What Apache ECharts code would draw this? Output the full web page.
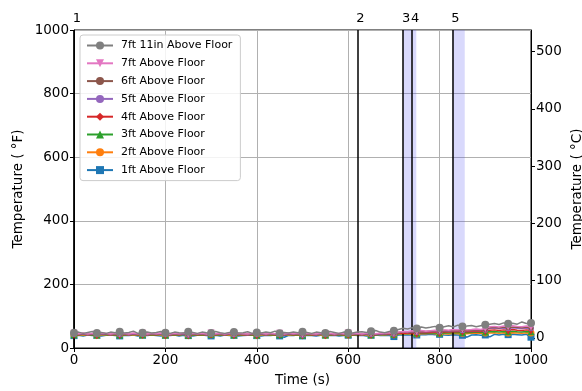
<!DOCTYPE html>
<html>
<head>
<meta charset="utf-8">
<script src="https://cdn.jsdelivr.net/npm/echarts@6/dist/echarts.min.js"></script>
<style>
html,body{margin:0;padding:0;background:#fff;}
#chart{width:582px;height:391px;}
</style>
</head>
<body>
<div id="chart"></div>
<script>
// Sample times (s), every 10 s
const time = [0,10,20,30,40,50,60,70,80,90,100,110,120,130,140,150,160,170,180,190,200,
210,220,230,240,250,260,270,280,290,300,310,320,330,340,350,360,370,380,390,400,
410,420,430,440,450,460,470,480,490,500,510,520,530,540,550,560,570,580,590,600,
610,620,630,640,650,660,670,680,690,700,710,720,730,740,750,760,770,780,790,800,
810,820,830,840,850,860,870,880,890,900,910,920,930,940,950,960,970,980,990,1000];

// Temperatures (°F)
const t7ft11in = [48,50,46,49,52,47,49,46,50,48,51,
47,49,53,46,48,50,47,49,52,48,
46,50,48,47,51,49,46,50,48,47,
52,48,46,49,50,47,48,51,46,49,
47,50,48,53,46,49,47,50,48,51,
49,46,50,48,47,52,49,46,50,48,
47,50,51,49,53,55,50,48,52,54,
58,62,60,64,61,66,63,65,68,64,
67,70,66,72,68,69,71,67,70,73,
75,77,74,79,76,78,75,82,77,79];
const t7ft = [46,45,47,44,46,45,47,46,44,46,45,
46,44,47,45,46,44,46,45,47,45,
44,46,45,47,44,46,45,46,44,47,
45,46,44,47,45,46,45,44,46,45,
47,44,46,45,46,44,47,45,46,44,
46,45,44,47,45,46,44,46,45,47,
45,46,44,47,46,45,47,46,48,47,
50,52,51,54,52,55,53,54,56,55,
57,56,58,57,59,57,58,60,58,61,
67,68,66,69,67,70,68,67,69,66];
const t6ft = [45,44,46,43,45,44,46,45,43,45,44,
45,43,46,44,45,43,45,44,46,44,
43,45,44,46,43,45,44,45,43,46,
44,45,43,46,44,45,44,43,45,44,
46,43,45,44,45,43,46,44,45,43,
45,44,43,46,44,45,43,45,44,46,
44,45,43,46,45,44,46,45,47,46,
49,51,50,52,51,53,52,53,54,53,
55,54,56,55,57,55,56,57,56,58,
64,65,63,66,64,66,65,64,66,63];
const t5ft = [44,43,45,42,44,43,45,44,42,44,43,
44,42,45,43,44,42,44,43,45,43,
42,44,43,45,42,44,43,44,42,45,
43,44,42,45,43,44,43,42,44,43,
45,42,44,43,44,42,45,43,44,42,
44,43,42,45,43,44,42,44,43,45,
43,44,42,45,44,43,45,44,46,45,
48,50,49,51,50,52,51,52,53,52,
54,53,55,54,56,54,55,56,55,57,
62,63,61,63,62,64,62,61,63,62];
const t4ft = [43,42,44,41,43,42,44,43,41,43,42,
43,41,44,42,43,41,43,42,44,42,
41,43,42,44,41,43,42,43,41,44,
42,43,41,44,42,43,42,41,43,42,
44,41,43,42,43,41,44,42,43,41,
43,42,41,44,42,43,41,43,42,44,
42,43,41,44,43,42,44,43,45,44,
46,47,46,48,47,49,48,49,50,49,
51,50,52,51,53,51,52,53,52,54,
56,57,55,57,56,58,56,55,57,56];
const t3ft = [42,41,43,40,42,41,43,42,40,42,41,
42,40,43,41,42,40,42,41,43,41,
40,42,41,43,40,42,41,42,40,43,
41,42,40,43,41,42,41,40,42,41,
43,40,42,41,42,40,43,41,42,40,
42,41,40,43,41,42,40,42,41,43,
41,42,40,43,42,41,43,42,44,43,
45,46,45,47,46,47,46,47,48,47,
48,47,49,48,49,48,49,50,49,50,
51,52,50,52,51,53,51,50,52,51];
const t2ft = [41,42,40,41,43,40,41,42,40,41,42,
40,41,42,40,41,43,40,42,41,40,
42,40,41,43,40,41,42,40,41,42,
40,42,41,40,42,41,40,43,41,40,
41,42,40,41,43,40,42,41,40,42,
41,40,42,41,40,42,41,43,40,41,
42,41,40,42,41,43,42,41,43,42,
44,45,44,45,44,45,45,46,45,46,
45,44,46,45,46,45,46,47,46,47,
47,48,46,48,47,48,47,46,48,47];
const t1ft = [39,40,38,41,39,40,38,40,41,39,38,
40,39,41,38,40,39,41,39,38,40,
39,41,38,40,39,38,40,41,39,38,
40,38,41,39,40,38,39,40,41,39,
38,40,39,41,38,34,40,39,41,38,
40,39,38,40,41,39,40,38,39,40,
41,39,40,38,40,41,39,40,39,36,
41,42,41,42,41,42,42,43,42,43,
41,40,42,41,40,34,41,42,40,41,
35,43,41,43,42,43,42,41,43,34];

const seriesNames = ['1ft Above Floor','2ft Above Floor','3ft Above Floor','4ft Above Floor',
  '5ft Above Floor','6ft Above Floor','7ft Above Floor','7ft 11in Above Floor'];
const seriesValues = [t1ft,t2ft,t3ft,t4ft,t5ft,t6ft,t7ft,t7ft11in];
const seriesColors = ['#1f77b4','#ff7f0e','#2ca02c','#d62728','#9467bd','#8c564b','#e377c2','#7f7f7f'];

// Event markers
const eventNames = ['1','2','3','4','5'];
const eventTimes = [0,620,720,740,828];
// Shaded intervals
const shadeStart = [720,828];
const shadeEnd = [749,855];

// Tick labels
const xTicks = [0,200,400,600,800,1000];
const yTicksF = [0,200,400,600,800,1000];
const yTicksC = [0,100,200,300,400,500];

const FONT = 'DejaVu Sans';
const markEvery = 5;

const symbolDefs = [
  {symbol:'rect', size:7},
  {symbol:'circle', size:7},
  {symbol:'triangle', size:7},
  {symbol:'diamond', size:[5,9]},
  {symbol:'circle', size:6},
  {symbol:'circle', size:5},
  {symbol:'triangle', size:7, rotate:180},
  {symbol:'circle', size:8}
];

const series = seriesNames.map((name,i)=>{
  const def = symbolDefs[i];
  return {
    name:name,
    type:'line',
    yAxisIndex:0,
    data: time.map((t,k)=>[t, seriesValues[i][k]]),
    color: seriesColors[i],
    lineStyle:{width:1.5, color:seriesColors[i]},
    itemStyle:{color:seriesColors[i], borderWidth:0},
    symbol: def.symbol,
    symbolRotate: def.rotate || 0,
    symbolSize: function(v, p){ return (p.dataIndex % markEvery === 0) ? def.size : 0; },
    showSymbol:true,
    showAllSymbol:true,
    animation:false,
    z: 2 + i
  };
});

series.push({
  name:'events',
  type:'line',
  yAxisIndex:0,
  data:[],
  silent:true,
  animation:false,
  markArea:{
    silent:true,
    itemStyle:{color:'rgba(80,80,240,0.22)'},
    data: shadeStart.map((s,i)=>[{xAxis:s},{xAxis:shadeEnd[i]}])
  },
  markLine:{
    silent:true,
    symbol:['none','none'],
    animation:false,
    lineStyle:{color:'#000', width:1.5, type:'solid'},
    label:{show:true, position:'end', formatter:'{b}', color:'#000', fontFamily:FONT, fontSize:13, distance:5, offset:[3,0]},
    data: eventTimes.map((t,i)=>({name:eventNames[i], xAxis:t}))
  },
  z: 20
});

const plain = v => String(Math.round(v));

const chart = echarts.init(document.getElementById('chart'), null, {renderer:'canvas'});
chart.setOption({
  animation:false,
  backgroundColor:'#fff',
  textStyle:{fontFamily:FONT},
  grid:{left:74, right:51, top:30, bottom:43, outerBoundsMode:'none', containLabel:false,
        show:true, borderColor:'#000', borderWidth:1, backgroundColor:'transparent'},
  legend:{
    data: seriesNames.slice().reverse(),
    orient:'vertical',
    left:80, top:35,
    itemWidth:26, itemHeight:10, itemGap:6.8,
    padding:[5,8,5,6],
    backgroundColor:'rgba(255,255,255,0.85)',
    borderColor:'#cccccc', borderWidth:1, borderRadius:3,
    textStyle:{fontFamily:FONT, fontSize:11, color:'#000', padding:[0,0,0,3]}
  },
  xAxis:{
    type:'value', min:0, max:1000, interval:200,
    name:'Time (s)', nameLocation:'middle', nameGap:25, nameMoveOverlap:false,
    nameTextStyle:{fontFamily:FONT, fontSize:13.5, color:'#000'},
    axisLine:{show:true, lineStyle:{color:'#000', width:1}},
    axisTick:{show:true, inside:false, length:4, lineStyle:{color:'#000'}, customValues:xTicks},
    axisLabel:{fontFamily:FONT, fontSize:13.5, color:'#000', margin:5, formatter:plain, customValues:xTicks},
    splitLine:{show:true, lineStyle:{color:'#b0b0b0', width:1}}
  },
  yAxis:[{
    type:'value', min:0, max:1000, interval:200, position:'left',
    name:'Temperature ( °F)', nameLocation:'middle', nameGap:49, nameRotate:90, nameMoveOverlap:false,
    nameTextStyle:{fontFamily:FONT, fontSize:13.5, color:'#000'},
    axisLine:{show:true, lineStyle:{color:'#000', width:1}},
    axisTick:{show:true, length:4, lineStyle:{color:'#000'}, customValues:yTicksF},
    axisLabel:{fontFamily:FONT, fontSize:13.5, color:'#000', margin:5, formatter:plain, customValues:yTicksF},
    splitLine:{show:true, lineStyle:{color:'#b0b0b0', width:1}}
  },{
    type:'value', min:-17.7778, max:537.7778, position:'right',
    name:'Temperature ( °C)', nameLocation:'middle', nameGap:39, nameRotate:90, nameMoveOverlap:false,
    nameTextStyle:{fontFamily:FONT, fontSize:13.5, color:'#000'},
    axisLine:{show:true, lineStyle:{color:'#000', width:1}},
    axisTick:{show:true, length:4, lineStyle:{color:'#000'}, customValues:yTicksC},
    axisLabel:{fontFamily:FONT, fontSize:13.5, color:'#000', margin:5, formatter:plain, customValues:yTicksC},
    splitLine:{show:false}
  }],
  series: series
});
</script>
</body>
</html>
